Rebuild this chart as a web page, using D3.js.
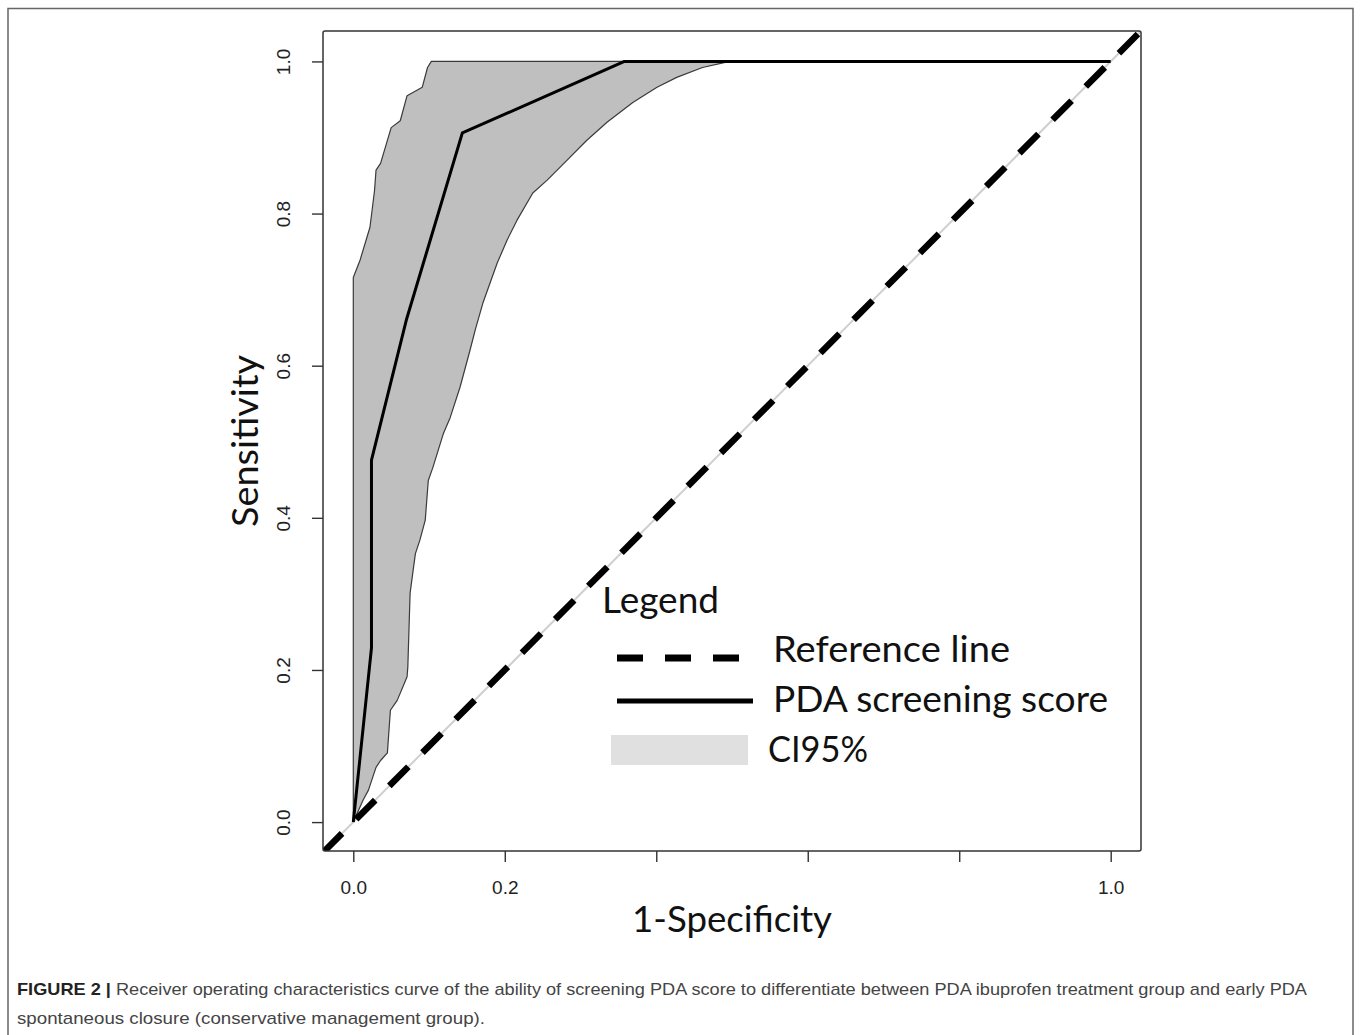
<!DOCTYPE html>
<html>
<head>
<meta charset="utf-8">
<script src="https://cdn.jsdelivr.net/npm/d3@7"></script>
<style>
  body { margin: 0; background: #fff; }
  svg { display: block; }
</style>
</head>
<body>
<svg id="chart" width="1360" height="1035"></svg>
<script>
// ROC curve (1-specificity, sensitivity)
const rocX = [0, 0.024, 0.024, 0.070, 0.144, 0.358, 1.0];
const rocY = [0, 0.229, 0.476, 0.660, 0.906, 1.0, 1.0];

// CI95% band, upper (left) edge from bottom to top
const ciUpperX = [0, 0, 0.009, 0.022, 0.028, 0.030, 0.036, 0.050, 0.062, 0.071, 0.084, 0.091, 0.098, 0.103, 0.497];
const ciUpperY = [0, 0.716, 0.739, 0.782, 0.830, 0.857, 0.866, 0.913, 0.922, 0.955, 0.962, 0.966, 0.992, 1.0, 1.0];

// CI95% band, lower (right) edge from top to bottom
const ciLowerX = [0.497, 0.461, 0.427, 0.401, 0.369, 0.335, 0.308, 0.282, 0.256, 0.237, 0.216, 0.203, 0.190, 0.171,
  0.161, 0.154, 0.141, 0.128, 0.119, 0.105, 0.099, 0.095, 0.088, 0.082, 0.079, 0.075, 0.072, 0.071, 0.058, 0.049,
  0.045, 0.036, 0.030, 0.020, 0.013, 0];
const ciLowerY = [1.0, 0.992, 0.979, 0.966, 0.946, 0.920, 0.896, 0.870, 0.844, 0.827, 0.791, 0.765, 0.735, 0.682,
  0.647, 0.620, 0.572, 0.532, 0.511, 0.466, 0.449, 0.397, 0.371, 0.353, 0.331, 0.301, 0.204, 0.191, 0.160, 0.147,
  0.091, 0.081, 0.072, 0.042, 0.029, 0];

const tickValues = [0, 0.2, 0.4, 0.6, 0.8, 1.0];
const xTickLabels = ["0.0", "0.2", "", "", "", "1.0"];
const yTickLabels = ["0.0", "0.2", "0.4", "0.6", "0.8", "1.0"];

const legendItems = ["Reference line", "PDA screening score", "CI95%"];
const captionBold = "FIGURE 2 | ";
const captionLine1 = "Receiver operating characteristics curve of the ability of screening PDA score to differentiate between PDA ibuprofen treatment group and early PDA";
const captionLine2 = "spontaneous closure (conservative management group).";

let box = { left: 323, right: 1141, top: 31, bottom: 851 };
let labelFont = "Lato, 'Open Sans', sans-serif";
let tickFont = "'Liberation Sans Narrow', 'Arial Narrow', 'Liberation Sans', sans-serif";

var svg = d3.select("#chart");

// outer figure frame
svg.append("path")
  .attr("d", "M8,1035 V8.5 H1353 V1035")
  .style("fill", "none")
  .style("stroke", "#666")
  .style("stroke-width", 1.5);

var x = d3.scaleLinear().domain([-0.04, 1.04]).range([box.left, box.right]);
var y = d3.scaleLinear().domain([-0.038, 1.04]).range([box.bottom, box.top]);

svg.append("clipPath").attr("id", "plotClip")
  .append("rect")
  .attr("x", box.left).attr("y", box.top)
  .attr("width", box.right - box.left).attr("height", box.bottom - box.top);

var plot = svg.append("g").attr("clip-path", "url(#plotClip)");

// confidence band polygon
var band = ciUpperX.map((d, i) => [d, ciUpperY[i]])
  .concat(ciLowerX.map((d, i) => [d, ciLowerY[i]]));
var bandLine = d3.line().x(d => x(d[0])).y(d => y(d[1]));

plot.append("path")
  .attr("d", bandLine(band) + "Z")
  .style("fill", "#bfbfbf")
  .style("stroke", "#3a3a3a")
  .style("stroke-width", 1.2)
  .style("stroke-linejoin", "round");

// identity line: thin grey under thick dashes
var diag = [[-0.04, -0.04], [1.04, 1.04]];
plot.append("path")
  .attr("d", bandLine(diag))
  .style("stroke", "#cfcfcf")
  .style("stroke-width", 2)
  .style("fill", "none");
plot.append("path")
  .attr("d", bandLine(diag))
  .style("stroke", "#000")
  .style("stroke-width", 6.5)
  .style("stroke-dasharray", "27,20")
  .style("fill", "none");

// ROC curve
var rocLine = d3.line().x(d => x(d)).y((d, i) => y(rocY[i]));
plot.append("path")
  .attr("d", rocLine(rocX))
  .style("stroke", "#000")
  .style("stroke-width", 3)
  .style("stroke-linejoin", "round")
  .style("fill", "none");

// box
svg.append("rect")
  .attr("x", box.left).attr("y", box.top)
  .attr("width", box.right - box.left).attr("height", box.bottom - box.top)
  .attr("rx", 2)
  .style("fill", "none")
  .style("stroke", "#333")
  .style("stroke-width", 1.5);

// axes
var xAxis = svg.append("g")
  .attr("transform", "translate(0," + box.bottom + ")")
  .call(d3.axisBottom(x).tickValues(tickValues).tickSize(11).tickFormat((d, i) => xTickLabels[i]));
xAxis.select(".domain").remove();
xAxis.selectAll("line").style("stroke", "#333").style("stroke-width", 1.4);
xAxis.selectAll("text")
  .attr("y", 43).attr("dy", 0)
  .style("font-family", tickFont)
  .style("font-size", "19px")
  .style("fill", "#222");

var yAxis = svg.append("g")
  .attr("transform", "translate(" + box.left + ",0)")
  .call(d3.axisLeft(y).tickValues(tickValues).tickSize(11).tickFormat((d, i) => yTickLabels[i]));
yAxis.select(".domain").remove();
yAxis.selectAll("line").style("stroke", "#333").style("stroke-width", 1.4);
yAxis.selectAll("text")
  .attr("x", 0).attr("dy", 0)
  .attr("transform", "translate(-33,0) rotate(-90)")
  .style("text-anchor", "middle")
  .style("font-family", tickFont)
  .style("font-size", "19px")
  .style("fill", "#222");

// axis titles
svg.append("text")
  .attr("x", (box.left + box.right) / 2)
  .attr("y", 932)
  .attr("text-anchor", "middle")
  .attr("textLength", 200)
  .attr("lengthAdjust", "spacingAndGlyphs")
  .style("font-family", labelFont)
  .style("font-size", "37px")
  .style("fill", "#111")
  .text("1-Specificity");

svg.append("text")
  .attr("transform", "translate(258," + ((box.top + box.bottom) / 2) + ") rotate(-90)")
  .attr("text-anchor", "middle")
  .attr("textLength", 172)
  .attr("lengthAdjust", "spacingAndGlyphs")
  .style("font-family", labelFont)
  .style("font-size", "37px")
  .style("fill", "#111")
  .text("Sensitivity");

// legend
var legend = svg.append("g");
legend.append("text")
  .attr("x", 602).attr("y", 613)
  .attr("textLength", 117)
  .attr("lengthAdjust", "spacingAndGlyphs")
  .style("font-family", labelFont)
  .style("font-size", "36px")
  .style("fill", "#111")
  .text("Legend");

let legendY = [662, 712, 762];
let legendX = [773, 773, 768];
let legendW = [237, 335, 100];
legendItems.forEach((d, i) => {
  legend.append("text")
    .attr("x", legendX[i]).attr("y", legendY[i])
    .attr("textLength", legendW[i])
    .attr("lengthAdjust", "spacingAndGlyphs")
    .style("font-family", labelFont)
    .style("font-size", "36px")
    .style("fill", "#111")
    .text(d);
});
legend.append("line")
  .attr("x1", 617).attr("x2", 741).attr("y1", 658).attr("y2", 658)
  .style("stroke", "#000").style("stroke-width", 7)
  .style("stroke-dasharray", "26,22");
legend.append("line")
  .attr("x1", 617).attr("x2", 753).attr("y1", 701).attr("y2", 701)
  .style("stroke", "#000").style("stroke-width", 5);
legend.append("rect")
  .attr("x", 611).attr("y", 735).attr("width", 137).attr("height", 30)
  .style("fill", "#e0e0e0");

// caption
var cap1 = svg.append("text")
  .attr("x", 17).attr("y", 995)
  .attr("textLength", 1290)
  .attr("lengthAdjust", "spacingAndGlyphs")
  .style("font-family", "'Liberation Sans', Arial, sans-serif")
  .style("font-size", "17px")
  .style("fill", "#444");
cap1.append("tspan").style("font-weight", "bold").style("fill", "#222").text(captionBold);
cap1.append("tspan").text(captionLine1);

svg.append("text")
  .attr("x", 17).attr("y", 1024)
  .attr("textLength", 468)
  .attr("lengthAdjust", "spacingAndGlyphs")
  .style("font-family", "'Liberation Sans', Arial, sans-serif")
  .style("font-size", "17px")
  .style("fill", "#444")
  .text(captionLine2);
</script>
</body>
</html>
